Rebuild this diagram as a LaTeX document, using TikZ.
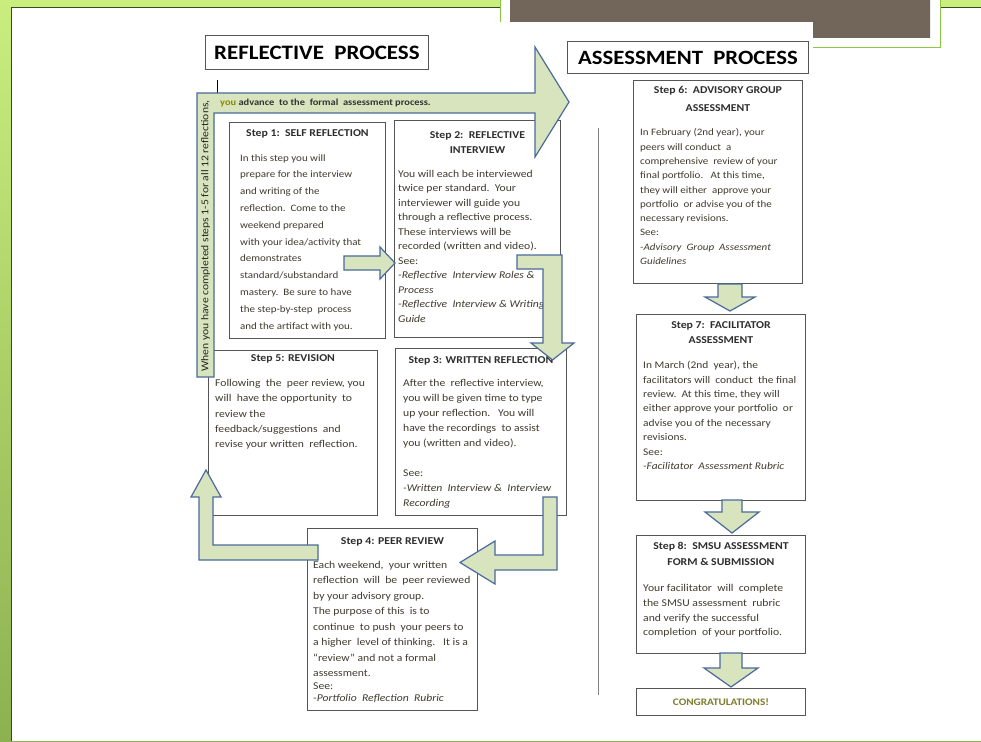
\documentclass[tikz,border=0pt]{standalone}
\usepackage{fontspec}
\setmainfont{Carlito}[FakeStretch=1.12]
\usetikzlibrary{calc}
\definecolor{arrfill}{HTML}{D7E4BD}
\definecolor{arrline}{HTML}{4A6A9C}
\definecolor{boxline}{HTML}{555555}
\definecolor{bodytxt}{HTML}{3F3B2E}
\definecolor{headtxt}{HTML}{2E2E2E}
\definecolor{congr}{HTML}{7E7C2E}
\definecolor{bgA}{HTML}{C9EE7E}
\definecolor{bgB}{HTML}{8CB151}
\definecolor{slidebrown}{HTML}{72665A}
\definecolor{edgegreen}{HTML}{8DC63F}
\definecolor{slideedge}{HTML}{3B4A25}
\begin{document}
\begin{tikzpicture}[x=1pt,y=-1pt,
  stepbox/.style={draw=boxline,line width=0.9pt,fill=white,anchor=north west,inner sep=0pt},
  head/.style={font=\bfseries\fontsize{10.5}{15}\selectfont,text=headtxt,align=center,anchor=north,inner sep=0pt},
  bodytext/.style={text=bodytxt,align=left,anchor=north west,inner sep=0pt},
  blockarrow/.style={fill=arrfill,draw=arrline,line width=1.2pt,line join=miter},
  titlebox/.style={draw=boxline,line width=0.9pt,fill=white,text=black,inner sep=0pt,anchor=north west}
]
\useasboundingbox (0,0) rectangle (981,741);
% background slide
\shade[top color=bgA,bottom color=bgB] (0,0) rectangle (981,741);
\fill[white] (11,7) rectangle (981,741);
\draw[slideedge,line width=0.8pt] (11,741)--(11,7)--(981,7);
\fill[white] (500,0) rectangle (940,48);
\fill[slidebrown] (510,0)--(930,0)--(930,38)--(813,38)--(813,22)--(510,22)--cycle;
\draw[edgegreen,line width=1pt] (500,0)--(500,22);
\draw[edgegreen,line width=1pt] (813,48)--(940,48)--(940,0);

% titles
\node[titlebox,minimum width=223,minimum height=34,font=\bfseries\fontsize{20.5}{22}\selectfont] (rtitle) at (205,35) {REFLECTIVE\ \ PROCESS};
\node[titlebox,minimum width=241,minimum height=32,font=\bfseries\fontsize{20.3}{22}\selectfont] (atitle) at (567,41) {ASSESSMENT\ \ PROCESS};
\draw[line width=1pt] (217,80)--(217,93);

% separator
\draw[gray,line width=0.8pt] (598,128)--(598,695);

% step boxes
\node[stepbox,minimum width=156,minimum height=216] (s1) at (229,122) {};
\node[stepbox,minimum width=166,minimum height=217] (s2) at (394,120) {};
\node[stepbox,minimum width=169,minimum height=165] (s5) at (208,350) {};
\node[stepbox,minimum width=171,minimum height=167] (s3) at (395,348) {};
\node[stepbox,minimum width=170,minimum height=182] (s4) at (307,528) {};
\node[stepbox,minimum width=169,minimum height=203] (s6) at (633,80) {};
\node[stepbox,minimum width=169,minimum height=186] (s7) at (636,314) {};
\node[stepbox,minimum width=169,minimum height=118] (s8) at (636,535) {};
\node[stepbox,minimum width=169,minimum height=27] (cg) at (636,688) {};

% step 1
\node[head] (h1) at ($(s1.north)+(0,7)$) {Step 1:\ \ SELF REFLECTION};
\node[bodytext,font=\fontsize{9.8}{16.8}\selectfont] (b1) at (240,154) {In this step you will\\prepare for the interview\\and writing of the\\reflection.\ \ Come to the\\weekend prepared\\with your idea/activity that\\demonstrates\\standard/substandard\\mastery.\ \ Be sure to have\\the step-by-step\ \ process\\and the artifact with you.};
% step 2
\node[head] (h2) at ($(s2.north)+(0,11)$) {Step 2:\ \ REFLECTIVE\\INTERVIEW};
\node[bodytext,font=\fontsize{10.4}{14.5}\selectfont] (b2) at (398,170) {You will each be interviewed\\twice per standard.\ \ Your\\interviewer will guide you\\through a reflective process.\\These interviews will be\\recorded (written and video).\\See:\\\textit{-Reflective\ \ Interview Roles \&}\\\textit{Process}\\\textit{-Reflective\ \ Interview \& Writing}\\\textit{Guide}};
% step 5
\node[head] (h5) at ($(s5.north)+(0,4)$) {Step 5: REVISION};
\node[bodytext,font=\fontsize{10.4}{15.3}\selectfont] (b5) at (215,379) {Following\ \ the\ \ peer review, you\\will\ \ have the opportunity\ \ to\\review the\\feedback/suggestions\ \ and\\revise your written\ \ reflection.};
% step 3
\node[head] (h3) at ($(s3.north)+(0,8)$) {Step 3: WRITTEN REFLECTION};
\node[bodytext,font=\fontsize{10.4}{15}\selectfont] (b3) at (403,379) {After the\ \ reflective interview,\\you will be given time to type\\up your reflection.\ \ \ You will\\have the recordings\ \ to assist\\you (written and video).\\[15pt]See:\\\textit{-Written\ \ Interview \&\ \ Interview}\\\textit{Recording}};
% step 4
\node[head] (h4) at ($(s4.north)+(0,9)$) {Step 4: PEER REVIEW};
\node[bodytext,font=\fontsize{10.4}{15.5}\selectfont] (b4) at (313,561) {Each weekend,\ \ your written\\reflection\ \ will\ \ be\ \ peer reviewed\\by your advisory group.\\The purpose of this\ \ is to\\continue\ \ to push\ \ your peers to\\a higher\ \ level of thinking.\ \ \ It is a\\``review'' and not a formal\\assessment.\\[-3pt]See:\\[-3pt]\textit{-Portfolio\ \ Reflection\ \ Rubric}};
% step 6
\node[head,font=\bfseries\fontsize{10.5}{18}\selectfont] (h6) at ($(s6.north)+(0,6)$) {Step 6:\ \ ADVISORY GROUP\\ASSESSMENT};
\node[bodytext,font=\fontsize{9.8}{14.3}\selectfont] (b6) at (640,128.5) {In February (2nd year), your\\peers will conduct\ \ a\\comprehensive\ \ review of your\\final portfolio.\ \ \ At this time,\\they will either\ \ approve your\\portfolio\ \ or advise you of the\\necessary revisions.\\See:\\\textit{-Advisory\ \ Group\ \ Assessment}\\\textit{Guidelines}};
% step 7
\node[head] (h7) at ($(s7.north)+(0,7)$) {Step 7:\ \ FACILITATOR\\ASSESSMENT};
\node[bodytext,font=\fontsize{10.2}{14.4}\selectfont] (b7) at (643,361) {In March (2nd\ \ year), the\\facilitators will\ \ conduct\ \ the final\\review.\ \ At this time, they will\\either approve your portfolio\ \ or\\advise you of the necessary\\revisions.\\See:\\\textit{-Facilitator\ \ Assessment Rubric}};
% step 8
\node[head,font=\bfseries\fontsize{10.5}{16}\selectfont] (h8) at ($(s8.north)+(0,7)$) {Step 8:\ \ SMSU ASSESSMENT\\FORM \& SUBMISSION};
\node[bodytext,font=\fontsize{10.4}{14.8}\selectfont] (b8) at (643,584) {Your facilitator\ \ will\ \ complete\\the SMSU assessment\ \ rubric\\and verify the successful\\completion\ \ of your portfolio.};
% congratulations
\node[font=\bfseries\fontsize{10}{12}\selectfont,text=congr,inner sep=0pt] (cgt) at (cg.center) {CONGRATULATIONS!};

% big U arrow
\draw[blockarrow] (197,93)--(535,93)--(535,47)--(569,102)--(535,157)--(535,113)--(214,113)--(214,377)--(197,377)--cycle;
\node[font=\bfseries\fontsize{9.3}{10}\selectfont,text=black!80,anchor=west,inner sep=0pt] (adv) at (220,103) {\textcolor{olive}{you} advance\ \ to the\ \ formal\ \ assessment process.};
\node[rotate=90,font=\fontsize{10.4}{11}\selectfont,text=black!85,inner sep=0pt] (when) at (205.5,236) {When you have completed steps 1-5 for all 12 reflections,};

% connectors
\draw[blockarrow] (344,256)--(380,256)--(380,247)--(395,263)--(380,279)--(380,270)--(344,270)--cycle;
\draw[blockarrow] (517,255)--(562,255)--(562,343)--(574,343)--(552.5,360)--(531,343)--(543,343)--(543,269)--(517,269)--cycle;
\draw[blockarrow] (543,497)--(557,497)--(557,570)--(495,570)--(495,584)--(460,562.5)--(495,541)--(495,555)--(543,555)--cycle;
\draw[blockarrow] (318,545)--(318,560)--(199,560)--(199,497)--(191,497)--(206,470)--(221,497)--(213,497)--(213,545)--cycle;
\draw[blockarrow] (718,284)--(742,284)--(742,297)--(755,297)--(730,311)--(705,297)--(718,297)--cycle;
\draw[blockarrow] (722,500)--(742,500)--(742,512)--(759,512)--(732,533)--(705,512)--(722,512)--cycle;
\draw[blockarrow] (720,653)--(742,653)--(742,668)--(758,668)--(731,687)--(704,668)--(720,668)--cycle;
\end{tikzpicture}
\end{document}
